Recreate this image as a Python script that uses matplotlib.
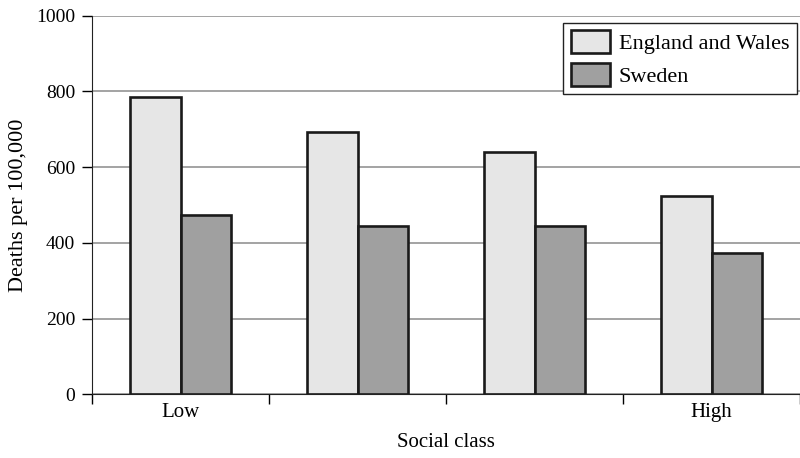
import numpy as np
import matplotlib
matplotlib.use("Agg")
import matplotlib.pyplot as plt

# values (deaths per 100,000)
classes = ["Low", "", "", "High"]
england_wales = [784, 694, 639, 524]
sweden = [473, 445, 445, 372]
series_names = ["England and Wales", "Sweden"]
yticks = [0, 200, 400, 600, 800, 1000]

plt.rcParams['font.family'] = ['Liberation Serif', 'DejaVu Serif']

fig = plt.figure(figsize=(8, 4.58), dpi=100)
ax = fig.add_axes([0.115, 0.139, 0.885, 0.8267])

x = np.arange(len(classes))
w = 0.287
edge = '#1a1a1a'
ax.bar(x - w / 2, england_wales, w, color='#e6e6e6', edgecolor=edge,
       linewidth=1.9, label=series_names[0], zorder=3)
ax.bar(x + w / 2, sweden, w, color='#a0a0a0', edgecolor=edge,
       linewidth=1.9, label=series_names[1], zorder=3)

ax.set_ylim(0, 1000)
ax.set_xlim(-0.5, 3.478)
ax.set_yticks(yticks)
ax.set_yticklabels([str(v) for v in yticks], fontsize=14)
ax.yaxis.grid(True, color='#8a8a8a', linewidth=1.1, zorder=0)
ax.set_axisbelow(True)

# category boundaries get ticks, labels sit centered in the category
ax.set_xticks(np.arange(len(classes) + 1) - 0.5)
ax.set_xticklabels([])
ax.set_xticks(x, minor=True)
ax.set_xticklabels(classes, minor=True, fontsize=15)
ax.tick_params(axis='x', which='minor', length=0, pad=6)
ax.tick_params(axis='x', which='major', length=7, width=1, direction='out')
ax.tick_params(axis='y', length=7, width=1, direction='out', pad=5)

for side in ['top', 'right']:
    ax.spines[side].set_visible(False)
ax.spines['left'].set_color('#222222')
ax.spines['bottom'].set_color('#222222')

ax.set_ylabel("Deaths per 100,000", fontsize=16, labelpad=6)
ax.set_xlabel("Social class", fontsize=15, labelpad=8)

leg = ax.legend(loc='upper right', bbox_to_anchor=(0.996, 0.9498),
                bbox_transform=fig.transFigure, fontsize=16,
                frameon=True, fancybox=False, borderaxespad=0,
                handlelength=1.75, handleheight=1.22, labelspacing=0.38,
                handletextpad=0.42, borderpad=0.33)
leg.get_frame().set_edgecolor('#222222')
leg.get_frame().set_linewidth(1.0)
leg.get_frame().set_alpha(1)

fig.savefig("out.png", dpi=100)
